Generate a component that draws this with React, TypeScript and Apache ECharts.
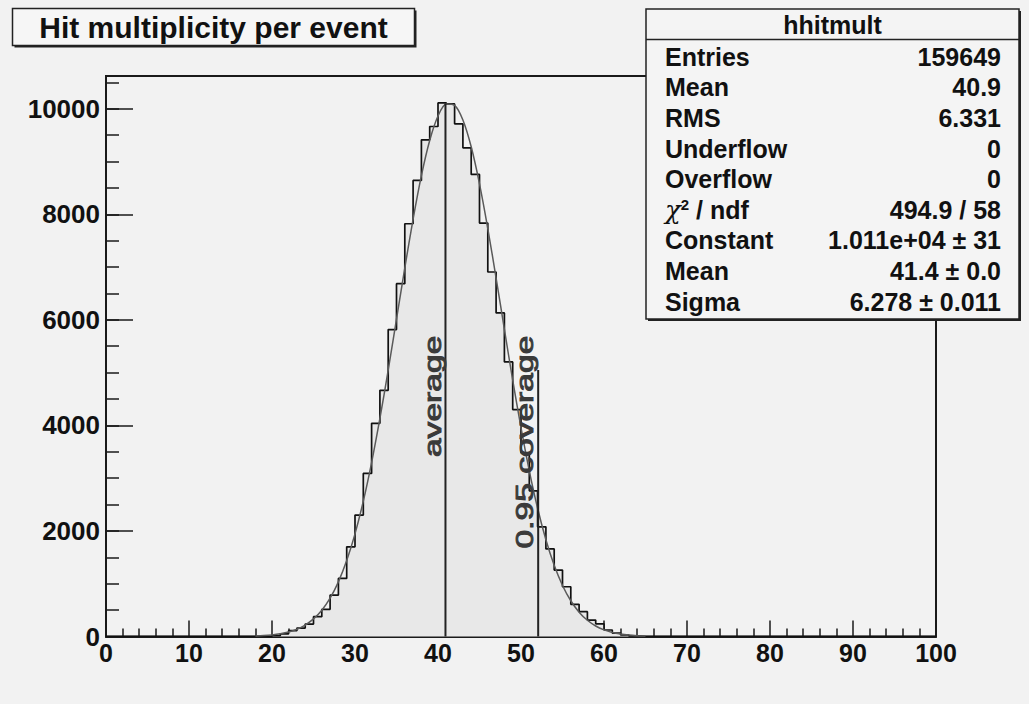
import React, { useEffect, useRef } from "react";
import * as echarts from "echarts";

const FONT = '"Liberation Sans", Arial, Helvetica, sans-serif';

// Histogram: 100 bins of width 1 between 0 and 100 (counts)
const xMin = 0;
const xMax = 100;
const binWidth = 1;
const histCounts = [
  0, 0, 0, 0, 0, 0, 0, 0, 0, 0,
  0, 0, 0, 0, 0, 0, 0, 0, 0, 0,
  15, 50, 110, 160, 236, 375, 514, 785, 1100, 1700,
  2300, 3090, 4040, 4665, 5815, 6685, 7821, 8641, 9411, 9663,
  10110, 10090, 9713, 9260, 8755, 7833, 6906, 6130, 5202, 4300,
  3480, 2760, 2079, 1660, 1259, 943, 610, 470, 312, 240,
  123, 65, 28, 10, 0, 0, 0, 0, 0, 0,
  0, 0, 0, 0, 0, 0, 0, 0, 0, 0,
  0, 0, 0, 0, 0, 0, 0, 0, 0, 0,
  0, 0, 0, 0, 0, 0, 0, 0, 0, 0,
];

// Gaussian fit curve
const fitX = [
  18, 19, 20, 21, 22, 23, 24, 25, 26, 27, 28, 29, 30, 31, 32, 33, 34, 35, 36, 37, 38, 39, 40, 41,
  42, 43, 44, 45, 46, 47, 48, 49, 50, 51, 52, 53, 54, 55, 56, 57, 58, 59, 60, 61, 62, 63, 64, 65,
];
const fitY = [
  10, 17, 30, 52, 85, 138, 217, 333, 499, 728, 1036, 1438, 1944, 2564, 3296, 4131, 5047, 6013, 6984, 7908, 8731, 9397, 9861, 10089,
  10064, 9787, 9279, 8577, 7730, 6792, 5818, 4859, 3956, 3140, 2430, 1834, 1349, 967, 677, 461, 307, 199, 126, 77, 46, 27, 16, 9,
];

// Vertical marker lines
const averageX = 40.9;
const averageTop = 10100;
const averageLabel = "average";
const coverageX = 52.07;
const coverageTop = 5050;
const coverageLabel = "0.95 coverage";
const markerLabelEndY = 5700;

// Axes
const yMax = 10620;
const yMajor = 2000;
const yMinor = 500;
const xMajor = 10;

// Title and statistics box
const chartTitle = "Hit multiplicity per event";
const statsName = "hhitmult";
const statsLabels = [
  "Entries",
  "Mean",
  "RMS",
  "Underflow",
  "Overflow",
  "{chi|χ}{sup|2}{n| / ndf}",
  "Constant",
  "Mean",
  "Sigma",
];
const statsValues = [
  "159649",
  "40.9",
  "6.331",
  "0",
  "0",
  "494.9 / 58",
  "1.011e+04 ± 31",
  "41.4 ± 0.0",
  "6.278 ± 0.011",
];

export default function App() {
  const ref = useRef<HTMLDivElement>(null);

  useEffect(() => {
    if (!ref.current) return;
    const chart = echarts.init(ref.current, null, { renderer: "svg" });

    const histData: number[][] = [];
    histCounts.forEach((c, i) => {
      const lo = xMin + i * binWidth;
      histData.push([lo, c], [lo + binWidth, c]);
    });
    const fitData = fitX.map((x, i) => [x, fitY[i]]);

    const axisColor = "#1a1a1a";
    const labelStyle = {
      color: "#111",
      fontFamily: FONT,
      fontWeight: "bold" as const,
    };

    chart.setOption({
      animation: false,
      backgroundColor: "#f2f2f2",
      textStyle: { fontFamily: FONT },
      grid: {
        left: 106,
        right: 93,
        top: 76,
        bottom: 67.5,
        show: true,
        borderColor: axisColor,
        borderWidth: 2,
        backgroundColor: "transparent",
      },
      xAxis: {
        type: "value",
        min: xMin,
        max: xMax,
        interval: xMajor,
        axisLine: { show: true, lineStyle: { color: axisColor, width: 2 } },
        axisTick: { show: true, inside: true, length: 16, lineStyle: { color: axisColor, width: 1.5 } },
        minorTick: { show: true, splitNumber: 5, length: 8, lineStyle: { color: axisColor, width: 1.5 } },
        splitLine: { show: false },
        axisLabel: { ...labelStyle, fontSize: 25, margin: 4, formatter: (v: number) => String(v) },
      },
      yAxis: [
        {
          type: "value",
          min: 0,
          max: yMax,
          interval: yMajor,
          axisLine: { show: true, lineStyle: { color: axisColor, width: 2 } },
          axisTick: { show: true, inside: true, length: 27, lineStyle: { color: axisColor, width: 1.5 } },
          splitLine: { show: false },
          axisLabel: {
            ...labelStyle,
            fontSize: 26,
            margin: 6,
            showMaxLabel: false,
            formatter: (v: number) => String(v),
          },
        },
        {
          type: "value",
          min: 0,
          max: yMax,
          interval: yMinor,
          position: "left",
          axisLine: { show: false },
          axisTick: { show: true, inside: true, length: 13, lineStyle: { color: axisColor, width: 1.5 } },
          splitLine: { show: false },
          axisLabel: { show: false },
        },
      ],
      series: [
        {
          type: "line",
          data: histData,
          symbol: "none",
          lineStyle: { color: "#111", width: 1.7 },
          areaStyle: { color: "#e8e8e8", opacity: 1 },
          z: 2,
        },
        {
          type: "line",
          data: fitData,
          symbol: "none",
          smooth: 0.3,
          lineStyle: { color: "#5a5a5a", width: 1.5 },
          z: 3,
        },
        {
          type: "line",
          data: [
            [averageX, 0],
            [averageX, averageTop],
          ],
          symbol: "none",
          lineStyle: { color: "#222", width: 2 },
          z: 4,
        },
        {
          type: "line",
          data: [
            [coverageX, 0],
            [coverageX, coverageTop],
          ],
          symbol: "none",
          lineStyle: { color: "#222", width: 2 },
          z: 4,
        },
      ],
    });

    const pA = chart.convertToPixel({ seriesIndex: 0 }, [averageX, markerLabelEndY]) as number[];
    const pC = chart.convertToPixel({ seriesIndex: 0 }, [coverageX, markerLabelEndY]) as number[];

    const markerText = (p: number[], text: string) => ({
      type: "text",
      x: p[0] - 1,
      y: p[1],
      rotation: Math.PI / 2,
      scaleX: 1.4,
      z: 50,
      style: {
        text,
        font: `24px ${FONT}`,
        fill: "#3a3a3a",
        stroke: "#3a3a3a",
        lineWidth: 0.9,
        textAlign: "right",
        textVerticalAlign: "bottom",
      },
    });

    const statsX = 646;
    const statsY = 9;
    const statsW = 373;
    const statsH = 310;
    const rowTop = 56.7;
    const rowStep = 30.6;

    const statsElements: any[] = [];
    statsLabels.forEach((lab, i) => {
      statsElements.push({
        type: "text",
        x: 665,
        y: rowTop + i * rowStep,
        z: 102,
        style: {
          text: lab,
          font: `bold 25px ${FONT}`,
          fill: "#111",
          textAlign: "left",
          textVerticalAlign: "middle",
          rich: {
            chi: { font: `italic 26px "DejaVu Serif", serif`, fill: "#111" },
            sup: { font: `bold 15px ${FONT}`, fill: "#111", verticalAlign: "top", padding: [0, 0, 10, 0] },
            n: { font: `bold 25px ${FONT}`, fill: "#111" },
          },
        },
      });
      statsElements.push({
        type: "text",
        x: 1001,
        y: rowTop + i * rowStep,
        z: 102,
        style: {
          text: statsValues[i],
          font: `bold 25px ${FONT}`,
          fill: "#111",
          textAlign: "right",
          textVerticalAlign: "middle",
        },
      });
    });

    chart.setOption({
      graphic: [
        markerText(pA, averageLabel),
        markerText(pC, coverageLabel),
        // title box
        { type: "rect", z: 100, shape: { x: 14.5, y: 10.5, width: 402, height: 37 }, style: { fill: "#222" } },
        {
          type: "rect",
          z: 101,
          shape: { x: 12.5, y: 8.5, width: 402, height: 37 },
          style: { fill: "#f6f6f6", stroke: "#222", lineWidth: 1.5 },
        },
        {
          type: "text",
          z: 102,
          x: 213.5,
          y: 27,
          style: {
            text: chartTitle,
            font: `bold 30px ${FONT}`,
            fill: "#111",
            textAlign: "center",
            textVerticalAlign: "middle",
          },
        },
        // stats box
        {
          type: "rect",
          z: 100,
          shape: { x: statsX + 2, y: statsY + 2, width: statsW, height: statsH },
          style: { fill: "#222" },
        },
        {
          type: "rect",
          z: 101,
          shape: { x: statsX, y: statsY, width: statsW, height: statsH },
          style: { fill: "#f4f4f4", stroke: "#222", lineWidth: 1.5 },
        },
        {
          type: "line",
          z: 102,
          shape: { x1: statsX, y1: 39.5, x2: statsX + statsW, y2: 39.5 },
          style: { stroke: "#222", lineWidth: 1.5 },
        },
        {
          type: "text",
          z: 102,
          x: statsX + statsW / 2,
          y: 25,
          style: {
            text: statsName,
            font: `bold 25px ${FONT}`,
            fill: "#111",
            textAlign: "center",
            textVerticalAlign: "middle",
          },
        },
        ...statsElements,
      ],
    });

    return () => chart.dispose();
  }, []);

  return (
    <div
      ref={ref}
      style={{ position: "fixed", left: 0, top: 0, width: 1029, height: 704 }}
    />
  );
}
